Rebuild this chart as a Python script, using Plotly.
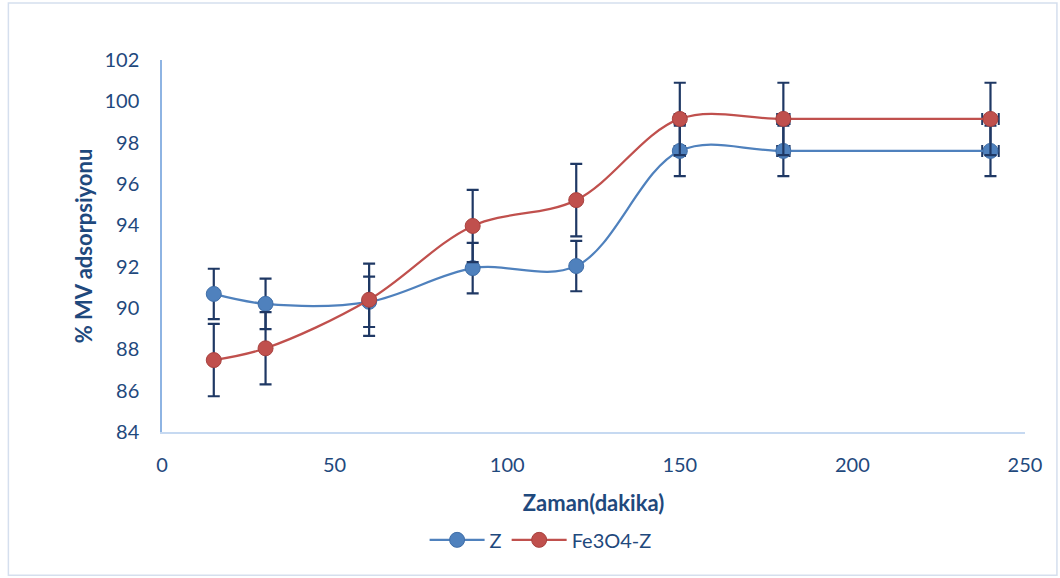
import plotly.graph_objects as go

# Contact time (minutes)
zaman = [15, 30, 60, 90, 120, 150, 180, 240]

# % MV adsorption for each adsorbent
z_values = [90.68, 90.20, 90.30, 91.93, 92.03, 97.60, 97.60, 97.60]
fe3o4_z_values = [87.48, 88.05, 90.40, 93.97, 95.22, 99.15, 99.15, 99.15]

# Error bar sizes (± in % adsorption)
z_err = [1.22] * len(zaman)
fe3o4_z_err = [1.75] * len(zaman)

series_names = ["Z", "Fe3O4-Z"]

TEXT = "#1f497d"
BAR = "#1f3864"
FONT = "Lato, 'Open Sans', sans-serif"

fig = go.Figure()


def add_series(name, y, err, color, edge):
    fig.add_trace(go.Scatter(
        x=zaman, y=y, name=name,
        mode="lines+markers",
        line=dict(color=color, width=2.25, shape="spline", smoothing=1),
        marker=dict(size=15, color=color, line=dict(color=edge, width=1)),
        error_y=dict(type="data", array=err, visible=True,
                     color=BAR, thickness=2.2, width=6),
        error_x=dict(type="percent", value=1, visible=True,
                     color=BAR, thickness=2, width=6),
    ))


add_series(series_names[0], z_values, z_err, "#4f81bd", "#3f6ea8")
add_series(series_names[1], fe3o4_z_values, fe3o4_z_err, "#c0504d", "#a8413e")

fig.update_layout(
    width=1060, height=578,
    margin=dict(l=162, r=35, t=60, b=146, autoexpand=False),
    paper_bgcolor="white", plot_bgcolor="white",
    font=dict(family=FONT, color=TEXT, size=20),
    showlegend=True,
    legend=dict(orientation="h", xref="container", yref="container",
                x=0.51, y=0.066, xanchor="center", yanchor="middle",
                font=dict(size=20, color=TEXT), itemwidth=55,
                tracegroupgap=0,
                bgcolor="rgba(0,0,0,0)"),
    shapes=[dict(type="rect", xref="paper", yref="paper",
                 x0=-0.178, x1=1.037, y0=-0.385, y1=1.153,
                 line=dict(color="#d5dfee", width=1.5), layer="below")],
)

fig.update_xaxes(
    range=[0, 250], dtick=50, tick0=0, automargin=False,
    showgrid=False, zeroline=False,
    showline=True, linecolor="#c6d9f1", linewidth=1.5,
    ticks="", ticklabelstandoff=14,
    tickfont=dict(size=20, color=TEXT, family=FONT),
    title=dict(text="<b>Zaman(dakika)</b>", standoff=21,
               font=dict(size=22, color=TEXT, family=FONT)),
)

fig.update_yaxes(
    range=[84, 102], dtick=2, tick0=84, automargin=False,
    showgrid=False, zeroline=False,
    showline=True, linecolor="#8eb4e3", linewidth=1.5,
    ticks="", ticklabelstandoff=17,
    tickfont=dict(size=20, color=TEXT, family=FONT),
    title=dict(text="<b>% MV adsorpsiyonu</b>", standoff=6,
               font=dict(size=22, color=TEXT, family=FONT)),
)

fig.write_html("out.html")
